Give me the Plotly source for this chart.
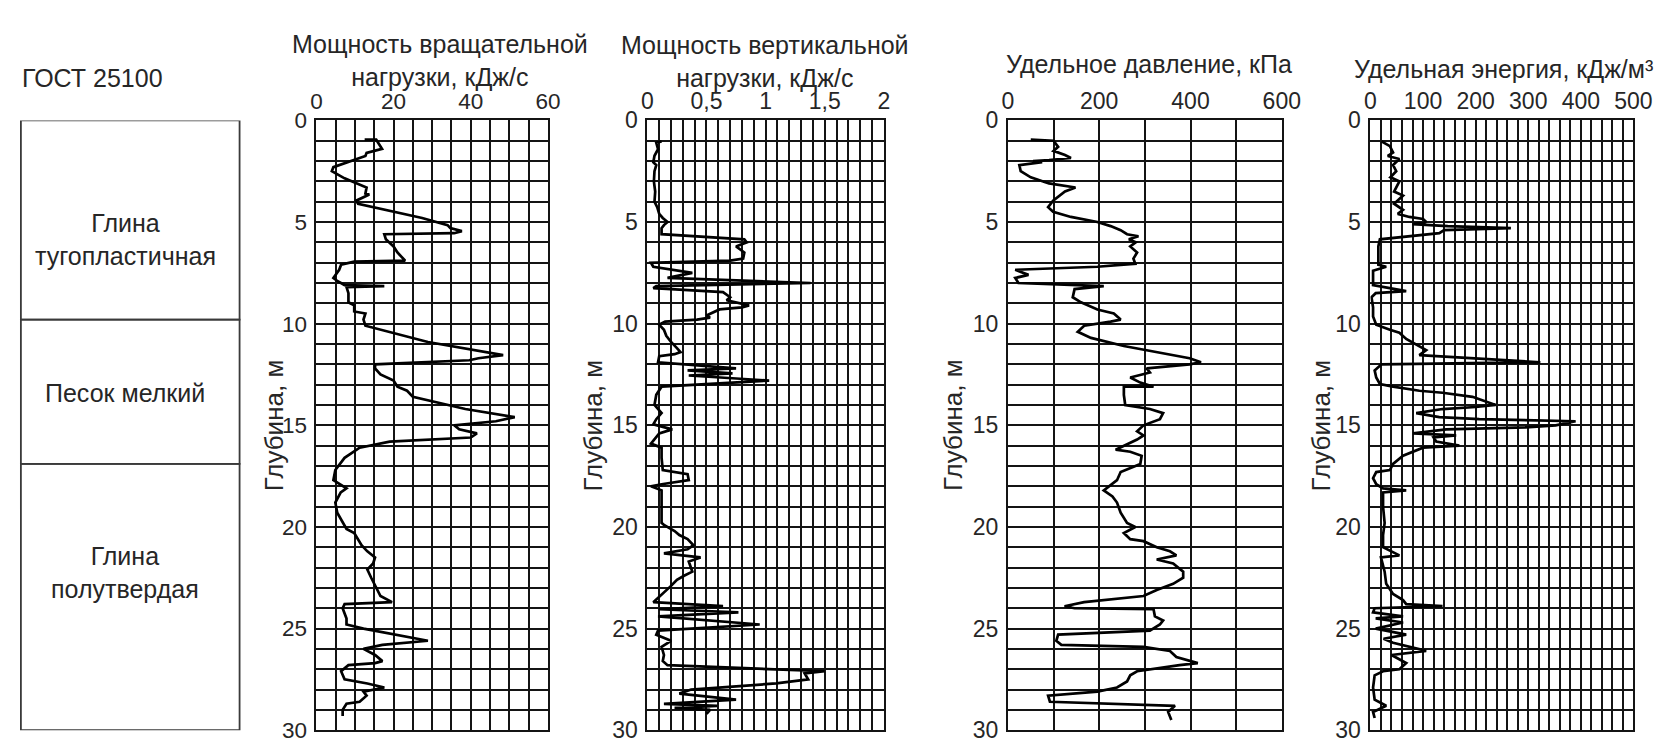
import plotly.graph_objects as go

# ---------------- data ----------------
# Panel 1: rotational load power, kJ/s
rot_depth = [0.95, 0.95, 1.4, 1.6, 1.75, 2.3, 2.5, 2.85, 3.3, 3.6, 3.65, 3.95, 4.1, 4.8, 5.15, 5.3, 5.45, 5.55,
             5.6, 5.85, 6.2, 6.5, 6.9, 6.95, 7.1, 7.35, 7.75, 7.9, 8.1, 8.15, 8.2, 8.5, 8.95, 9.1, 9.4, 9.5, 9.8,
             10.1, 10.9, 11.4, 11.55, 11.7, 11.8, 12.0, 12.2, 12.5, 12.8, 13.1, 13.3, 13.6, 14.2, 14.6, 14.8,
             15.0, 15.2, 15.4, 15.6, 15.8, 16.1, 16.6, 17.2, 17.7, 18.1, 18.3, 18.8, 19.3, 19.8, 20.1, 20.3,
             20.6, 20.9, 21.2, 21.5, 21.8, 22.1, 22.5, 22.9, 23.4, 23.7, 23.8, 24.0, 24.5, 24.8, 25.0, 25.6,
             25.8, 26.0, 26.3, 26.6, 26.7, 26.8, 27.1, 27.5, 27.7, 27.9, 28.1, 28.3, 28.6, 28.7, 29.0, 29.3]
rot_power = [12.5, 15.5, 17.0, 13.0, 12.7, 4.4, 4.0, 7.3, 13.0, 12.7, 13.7, 10.3, 10.8, 27.4, 34.0, 34.7, 37.7, 35.7,
             17.6, 18.0, 20.0, 21.0, 23.0, 9.8, 6.4, 5.9, 4.4, 5.4, 7.3, 17.6, 7.8, 8.3, 8.3, 9.8, 9.8, 12.7, 12.2,
             12.7, 28.9, 43.5, 48.4, 42.0, 39.6, 15.2, 15.2, 16.6, 20.0, 21.0, 23.5, 25.0, 38.6, 51.4, 46.5,
             35.7, 37.0, 41.6, 40.0, 19.0, 11.2, 7.3, 4.9, 4.4, 7.8, 6.3, 4.9, 5.4, 6.8, 7.8, 9.8,
             10.8, 11.7, 13.2, 15.2, 14.7, 13.2, 14.2, 15.2, 16.6, 19.6, 7.3, 6.8, 7.8, 7.8, 12.2, 28.9,
             17.1, 12.2, 15.2, 17.1, 15.2, 8.3, 6.4, 7.3, 13.2, 17.6, 12.2, 13.0, 11.2, 7.8, 6.8, 6.8]

# Panel 2: vertical load power, kJ/s
ver_depth = [1.03, 1.1, 1.42, 1.74, 2.06, 2.2, 2.5, 3.0, 3.5, 4.0, 4.27, 4.6, 4.8, 5.0, 5.15, 5.3, 5.6, 5.85, 6.0,
             6.2, 6.5, 6.8, 6.9, 7.0, 7.2, 7.5, 7.75, 8.0, 8.15, 8.25, 8.45, 8.7, 8.85, 9.1, 9.2, 9.3, 9.6, 9.7,
             9.8, 9.9, 10.05, 10.3, 10.6, 10.9, 11.2, 11.4, 11.5, 11.6, 11.9, 12.2, 12.3, 12.45, 12.55, 12.8,
             13.1, 13.5, 14.0, 14.4, 14.7, 14.95, 15.2, 15.4, 15.9, 16.1, 16.6, 17.2, 17.4, 17.7, 17.9, 18.0,
             18.2, 19.0, 19.8, 19.9, 20.2, 20.4, 20.6, 20.9, 21.1, 21.3, 21.5, 21.7, 22.2, 22.4, 22.6, 22.9,
             23.5, 23.7, 23.9, 24.05, 24.2, 24.4, 24.8, 25.1, 25.3, 25.6, 25.9, 26.3, 26.6, 26.8, 27.1, 27.2,
             27.5, 27.7, 28.0, 28.2, 28.5, 28.7, 28.8, 28.9, 29.0, 29.2]
ver_power = [0.12, 0.075, 0.09, 0.06, 0.05, 0.075, 0.06, 0.055, 0.066, 0.06, 0.083, 0.10, 0.13, 0.17, 0.14, 0.12,
             0.12, 0.82, 0.84, 0.75, 0.82, 0.81, 0.70, 0.03, 0.05, 0.38, 0.17, 1.38, 0.075, 0.05, 0.64, 0.70,
             0.67, 0.86, 0.80, 0.61, 0.50, 0.53, 0.42, 0.15, 0.10, 0.14, 0.16, 0.20, 0.25, 0.28, 0.23, 0.10,
             0.09, 0.75, 0.34, 0.72, 0.35, 1.03, 0.12, 0.075, 0.06, 0.12, 0.075, 0.05, 0.21, 0.10, 0.03, 0.12,
             0.12, 0.13, 0.34, 0.35, 0.12, 0.03, 0.12, 0.12, 0.12, 0.14, 0.23, 0.27, 0.34, 0.39, 0.34, 0.14,
             0.45, 0.35, 0.38, 0.31, 0.25, 0.20, 0.09, 0.05, 0.64, 0.10, 0.77, 0.09, 0.95, 0.09, 0.075, 0.20,
             0.12, 0.14, 0.13, 0.17, 1.50, 1.33, 1.36, 1.09, 0.37, 0.27, 0.75, 0.14, 0.59, 0.23, 0.53, 0.50]

# Panel 3: specific pressure, kPa
prs_depth = [0.95, 1.0, 1.3, 1.5, 1.7, 1.85, 1.95, 2.0, 2.05, 2.2, 2.5, 2.8, 3.1, 3.3, 3.5, 3.95, 4.27, 4.5, 4.75,
             5.0, 5.2, 5.4, 5.6, 5.7, 5.85, 6.0, 6.2, 6.5, 6.8, 7.05, 7.2, 7.35, 7.6, 7.75, 8.0, 8.15, 8.3, 8.7,
             8.95, 9.3, 9.5, 9.8, 9.9, 10.1, 10.4, 10.7, 11.1, 11.4, 11.7, 11.9, 12.0, 12.2, 12.4, 12.65, 12.9,
             13.1, 13.1, 13.5, 14.0, 14.2, 14.4, 14.7, 15.0, 15.3, 15.5, 15.7, 16.0, 16.2, 16.3, 16.5, 16.9,
             17.3, 17.7, 18.2, 18.5, 18.8, 19.3, 19.8, 20.0, 20.3, 20.6, 20.7, 21.0, 21.2, 21.4, 21.6, 21.8,
             22.2, 22.5, 22.8, 23.1, 23.4, 23.7, 23.9, 24.0, 24.05, 24.4, 24.6, 24.8, 25.1, 25.3, 25.6, 25.8,
             25.9, 26.1, 26.4, 26.7, 26.8, 27.1, 27.3, 27.6, 27.9, 28.1, 28.3, 28.6, 28.7, 28.8, 29.1, 29.5]
prs_value = [50, 100, 110, 100, 125, 138, 90, 55, 75, 25, 28, 50, 90, 148, 125, 99, 88, 99, 138,
             196, 225, 247, 261, 286, 265, 280, 268, 283, 275, 279, 196, 16, 45, 16, 23, 210, 146, 142,
             160, 196, 232, 247, 225, 167, 153, 182, 254, 326, 398, 423, 398, 304, 311, 268, 290,
             319, 254, 254, 257, 311, 340, 333, 297, 283, 297, 283, 254, 236, 268, 293, 290,
             247, 239, 210, 229, 239, 247, 261, 279, 254, 268, 297, 326, 355, 369, 326, 362,
             384, 384, 362, 326, 297, 167, 124, 146, 319, 322, 340, 333, 311, 110, 106, 117,
             297, 355, 369, 416, 376, 283, 268, 261, 239, 196, 88, 92, 210, 366, 351, 358]

# Panel 4: specific energy, kJ/m3
eng_depth = [1.03, 1.27, 1.58, 1.75, 1.9, 2.2, 2.5, 2.8, 3.0, 3.5, 3.7, 4.1, 4.4, 4.6, 4.75, 4.85, 5.0, 5.1, 5.2,
             5.3, 5.4, 5.55, 5.85, 6.2, 7.1, 7.2, 7.4, 8.1, 8.4, 8.5, 8.7, 9.2, 9.65, 10.05, 10.3, 10.45, 10.75,
             11.1, 11.3, 11.55, 11.9, 12.0, 12.3, 12.65, 12.97, 13.1, 13.3, 13.4, 13.6, 14.0, 14.1, 14.2, 14.4,
             14.6, 14.7, 14.8, 15.0, 15.1, 15.2, 15.4, 15.5, 15.6, 15.8, 16.0, 16.05, 16.1, 16.5, 16.9, 17.2,
             17.3, 17.6, 17.9, 18.1, 18.2, 18.3, 19.0, 19.8, 20.4, 21.0, 21.4, 21.5, 22.2, 22.8, 23.3, 23.6,
             23.8, 23.9, 24.0, 24.2, 24.4, 24.5, 24.7, 25.0, 25.3, 25.5, 25.7, 26.1, 26.3, 26.7, 27.0, 27.1,
             27.3, 27.9, 28.5, 28.8, 29.1, 29.4]
eng_value = [21, 37, 43, 33, 55, 43, 49, 38, 55, 45, 62, 45, 62, 52, 74, 100, 106, 80, 147,
             267, 140, 131, 18, 15, 15, 30, 5, 5, 68, 10, 2, 5, 5, 11, 37, 55, 68,
             93, 106, 93, 323, 21, 8, 11, 18, 43, 93, 137, 194, 238, 200, 137, 87,
             131, 207, 390, 352, 295, 144, 81, 163, 120, 125, 169, 140, 100, 62, 43, 37,
             11, 5, 11, 24, 68, 24, 24, 27, 24, 24, 55, 20, 27, 30, 43, 62,
             68, 137, 8, 5, 62, 10, 62, 10, 68, 25, 43, 106, 40, 68, 55, 24,
             8, 5, 8, 30, 5, 8]

# tick labels
rot_tickvals = [0, 20, 40, 60]
rot_ticktext = ["0", "20", "40", "60"]
ver_tickvals = [0, 0.5, 1, 1.5, 2]
ver_ticktext = ["0", "0,5", "1", "1,5", "2"]
prs_tickvals = [0, 200, 400, 600]
prs_ticktext = ["0", "200", "400", "600"]
eng_tickvals = [0, 100, 200, 300, 400, 500]
eng_ticktext = ["0", "100", "200", "300", "400", "500"]
depth_tickvals = [0, 5, 10, 15, 20, 25, 30]
depth_ticktext = ["0", "5", "10", "15", "20", "25", "30"]

titles = ["Мощность вращательной<br>нагрузки, кДж/с",
          "Мощность вертикальной<br>нагрузки, кДж/с",
          "Удельное давление, кПа",
          "Удельная энергия, кДж/м³"]
depth_title = "Глубина, м"

soil_names = ["Глина<br>тугопластичная", "Песок мелкий", "Глина<br>полутвердая"]
soil_top = [0, 9.8, 16.9]
soil_bottom = [9.8, 16.9, 30]
soil_label_depth = [5.85, 13.4, 22.25]
gost_label = "ГОСТ 25100"

# ---------------- layout helpers ----------------
W, H = 1674, 741
FONT = "Liberation Sans, Arial, sans-serif"
TXT = "#262626"
GRID = "#141414"


def fx(px):
    return px / W


def fy(py):
    return 1 - py / H


PLOT_TOP, PLOT_BOT = 103, 735
panels = [
    dict(x=rot_power, y=rot_depth, px=(307, 542), xmax=60, step=5, tv=rot_tickvals, tt=rot_ticktext,
         tfont=22.5, title_xy=(432, 41), ytitle_x=264),
    dict(x=ver_power, y=ver_depth, px=(643, 883), xmax=2, step=0.1, tv=ver_tickvals, tt=ver_ticktext,
         tfont=23, title_xy=(762, 42), ytitle_x=588),
    dict(x=prs_value, y=prs_depth, px=(1009, 1287), xmax=600, step=100, tv=prs_tickvals, tt=prs_ticktext,
         tfont=23, title_xy=(1152, 45), ytitle_x=954),
    dict(x=eng_value, y=eng_depth, px=(1377, 1644), xmax=500, step=20, tv=eng_tickvals, tt=eng_ticktext,
         tfont=23, title_xy=(1512, 50), ytitle_x=1327),
]
TITLE_SIZE = 25
YTITLE_SIZE = 26

fig = go.Figure()
annotations = []
shapes = []

for i, p in enumerate(panels, start=1):
    xa = "x" if i == 1 else f"x{i}"
    ya = "y" if i == 1 else f"y{i}"
    fig.add_trace(go.Scatter(x=p["x"], y=p["y"], mode="lines", xaxis=xa, yaxis=ya,
                             line=dict(color="black", width=2.7), showlegend=False, hoverinfo="skip"))

    n_cols = int(round(p["xmax"] / p["step"]))
    xgrid = [round(k * p["step"], 6) for k in range(n_cols + 1)]
    xtext = []
    for v in xgrid:
        match = [t for tv, t in zip(p["tv"], p["tt"]) if abs(tv - v) < 1e-9]
        xtext.append(match[0] if match else "")

    ygrid = list(range(0, 31))
    ytext = []
    for v in ygrid:
        match = [t for tv, t in zip(depth_tickvals, depth_ticktext) if tv == v]
        ytext.append(match[0] if match else "")

    fig.update_layout(**{
        ("xaxis" if i == 1 else f"xaxis{i}"): dict(
            domain=[fx(p["px"][0]), fx(p["px"][1])], range=[0, p["xmax"]], anchor=ya, side="top",
            tickmode="array", tickvals=xgrid, ticktext=xtext, ticks="", ticklen=0,
            showgrid=True, gridcolor=GRID, gridwidth=2, zeroline=False,
            showline=True, mirror=True, linecolor=GRID, linewidth=2,
            tickfont=dict(family=FONT, size=p["tfont"], color=TXT), ticklabelstandoff=0,
            ticklabeloverflow="allow", fixedrange=True),
        ("yaxis" if i == 1 else f"yaxis{i}"): dict(
            domain=[fy(PLOT_BOT), fy(PLOT_TOP)], range=[30, 0], anchor=xa,
            tickmode="array", tickvals=ygrid, ticktext=ytext, ticks="", ticklen=0,
            showgrid=True, gridcolor=GRID, gridwidth=2, zeroline=False,
            showline=True, mirror=True, linecolor=GRID, linewidth=2,
            tickfont=dict(family=FONT, size=p["tfont"], color=TXT), ticklabelstandoff=3,
            ticklabeloverflow="allow", fixedrange=True),
    })

    annotations.append(dict(text=titles[i - 1], x=fx(p["title_xy"][0]), y=fy(p["title_xy"][1]),
                            xref="paper", yref="paper", showarrow=False, xanchor="center", yanchor="middle",
                            font=dict(family=FONT, size=TITLE_SIZE, color=TXT), align="center"))
    annotations.append(dict(text=depth_title, x=fx(p["ytitle_x"]), y=15, xref="paper", yref=ya,
                            showarrow=False, textangle=-90, xanchor="center", yanchor="middle",
                            font=dict(family=FONT, size=YTITLE_SIZE, color=TXT)))

# soil column (uses depth axis of panel 1)
SOIL_X0, SOIL_X1 = 7, 229
for top, bot in zip(soil_top, soil_bottom):
    shapes.append(dict(type="rect", xref="paper", yref="y", x0=fx(SOIL_X0), x1=fx(SOIL_X1), y0=top, y1=bot,
                       line=dict(color="#3a3a3a", width=1.8), fillcolor="rgba(0,0,0,0)", layer="above"))
for name, d in zip(soil_names, soil_label_depth):
    annotations.append(dict(text=name, x=fx(113), y=d, xref="paper", yref="y",
                            showarrow=False, xanchor="center", yanchor="middle", align="center",
                            font=dict(family=FONT, size=25, color=TXT)))
annotations.append(dict(text=gost_label, x=fx(6), y=fy(59), xref="paper", yref="paper", showarrow=False,
                        xanchor="left", yanchor="middle", font=dict(family=FONT, size=25, color=TXT)))

fig.update_layout(width=W, height=H, margin=dict(l=0, r=0, t=0, b=0),
                  paper_bgcolor="white", plot_bgcolor="white",
                  annotations=annotations, shapes=shapes, showlegend=False)

fig.write_html("out.html")
